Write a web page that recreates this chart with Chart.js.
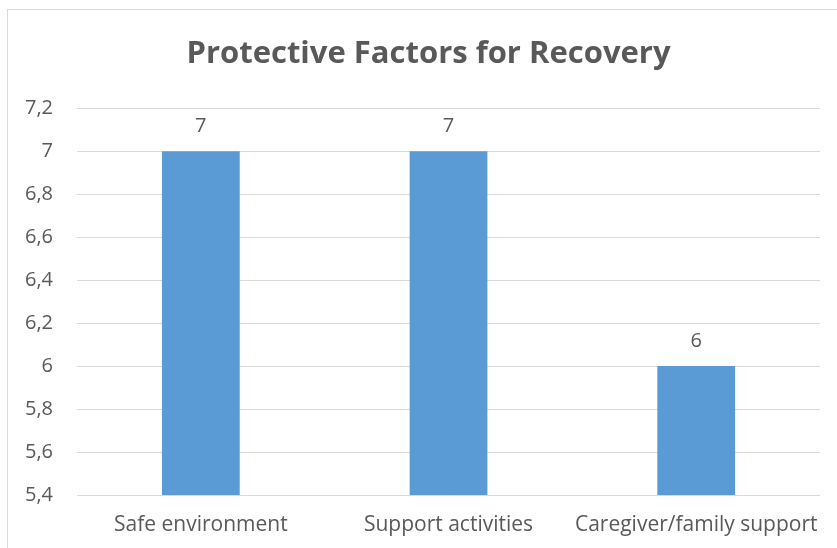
<!DOCTYPE html>
<html>
<head>
<meta charset="utf-8">
<script src="https://cdn.jsdelivr.net/npm/chart.js@4"></script>
<style>
  html, body { margin: 0; padding: 0; background: #fff; overflow: hidden; }
  #wrap { position: relative; width: 837px; height: 548px; }
  #frame { position: absolute; left: 7px; top: 9px; width: 844px; height: 560px; border: 1px solid #d9d9d9; box-sizing: border-box; }
  canvas { position: absolute; left: 0; top: 0; }
</style>
</head>
<body>
<div id="wrap">
  <div id="frame"></div>
  <canvas id="chart" width="837" height="548"></canvas>
</div>
<script>
// DATA
const categories = ["Safe environment", "Support activities", "Caregiver/family support"];
const values = [7, 7, 6];
const yTicks = [5.4, 5.6, 5.8, 6, 6.2, 6.4, 6.6, 6.8, 7, 7.2];

const textColor = "#595959";
const fontFamily = "'Open Sans', sans-serif";

function fmt(v) {
  return String(Number(v.toFixed(1))).replace(".", ",");
}

// value labels above each bar
const barLabels = {
  id: "barLabels",
  afterDatasetsDraw(chart) {
    const ctx = chart.ctx;
    const meta = chart.getDatasetMeta(0);
    ctx.save();
    ctx.fillStyle = textColor;
    ctx.font = "20px " + fontFamily;
    ctx.textAlign = "center";
    ctx.textBaseline = "middle";
    meta.data.forEach(function(bar, i) {
      ctx.fillText(fmt(values[i]), bar.x, bar.y - 25);
    });
    ctx.restore();
  }
};

new Chart(document.getElementById("chart"), {
  type: "bar",
  data: {
    labels: categories,
    datasets: [{
      label: "Protective Factors for Recovery",
      data: values,
      backgroundColor: "#5b9bd5",
      categoryPercentage: 1,
      barPercentage: 0.314
    }]
  },
  options: {
    responsive: false,
    animation: false,
    layout: { padding: { left: 20, right: 0, top: 0, bottom: 0 } },
    plugins: {
      legend: { display: false },
      tooltip: { enabled: false },
      title: {
        display: true,
        text: "Protective Factors for Recovery",
        color: textColor,
        font: { size: 31, weight: "bold", family: fontFamily, lineHeight: 1.2 },
        padding: { top: 36, bottom: 35 }
      }
    },
    scales: {
      x: {
        grid: { display: false, drawTicks: false },
        border: { display: false },
        ticks: {
          color: textColor,
          padding: 17,
          maxRotation: 0,
          minRotation: 0,
          autoSkip: false,
          font: { size: 21, family: fontFamily }
        },
        afterFit(scale) { scale.height = 53; }
      },
      y: {
        min: 5.4,
        max: 7.2,
        afterBuildTicks(scale) { scale.ticks = yTicks.map(v => ({ value: v })); },
        grid: { color: "#d9d9d9", lineWidth: 1, drawTicks: false },
        border: { display: false },
        ticks: {
          color: textColor,
          padding: 24,
          font: { size: 20, family: fontFamily },
          callback: function(v) { return fmt(v); }
        },
        afterFit(scale) { scale.width = 57; }
      },
      // empty right-hand spacer so the plot ends at the same place
      yRight: {
        position: "right",
        grid: { display: false, drawTicks: false },
        border: { display: false },
        ticks: { display: false },
        afterFit(scale) { scale.width = 15; }
      }
    }
  },
  plugins: [barLabels]
});
</script>
</body>
</html>
